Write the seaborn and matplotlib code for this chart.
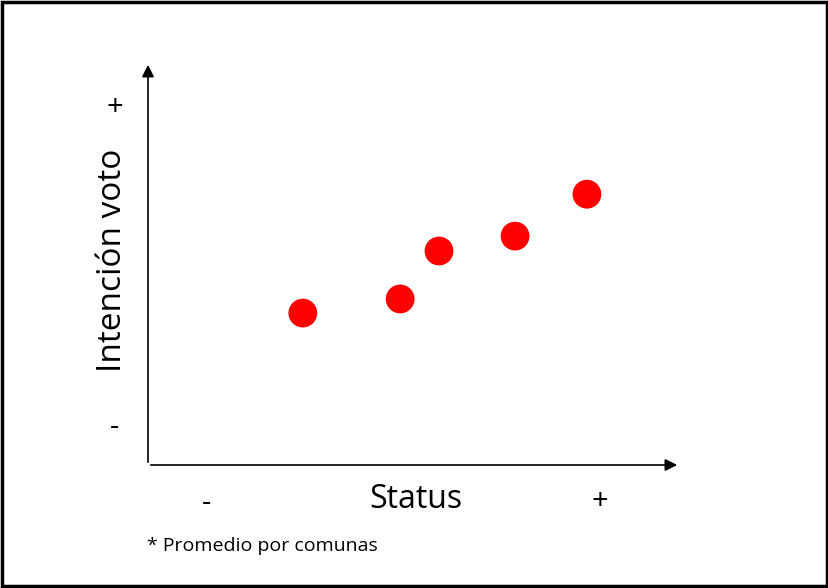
import matplotlib
matplotlib.use("Agg")
import matplotlib.pyplot as plt
import seaborn as sns
import pandas as pd
from matplotlib.patches import Rectangle

status = [29.1, 47.4, 54.7, 69.0, 82.5]
intencion = [37.7, 41.2, 53.1, 56.8, 67.2]
df = pd.DataFrame({"status": status, "intencion": intencion})

W, H = 829, 588
fig = plt.figure(figsize=(W/100, H/100), dpi=100)
plt.rcParams['font.family'] = ['Open Sans', 'DejaVu Sans']
ax = fig.add_axes([148/W, (H-465)/H, (680-148)/W, (465-62)/H])
sns.scatterplot(data=df, x="status", y="intencion", ax=ax, color="#ff0000",
                s=430, marker="o", edgecolor="none", legend=False)
ax.set_xlim(0, 100); ax.set_ylim(0, 100)
for s in ax.spines.values():
    s.set_visible(False)
ax.set_xticks([]); ax.set_yticks([]); ax.set_xlabel(""); ax.set_ylabel("")
ax.annotate("", xy=(1, 0), xytext=(0, 0), xycoords="axes fraction",
            arrowprops=dict(arrowstyle="-|>", color="black", lw=1.2, mutation_scale=18))
ax.annotate("", xy=(0, 1), xytext=(0, 0), xycoords="axes fraction",
            arrowprops=dict(arrowstyle="-|>", color="black", lw=1.2, mutation_scale=18))

def t(x, y, s, **kw):
    fig.text(x/W, 1-y/H, s, ha="center", va="center", **kw)

t(113, 260, "Intención voto", fontsize=24, rotation=90)
t(115, 107, "+", fontsize=21)
t(115, 428, "-", fontsize=21)
t(416, 500, "Status", fontsize=23)
t(207, 503, "-", fontsize=21)
t(600, 502, "+", fontsize=21)
fig.text(147/W, 1-546/H, "* Promedio por comunas", ha="left", va="center", fontsize=14)
fig.patches.append(Rectangle((0.002, 0.003), 0.996, 0.994, transform=fig.transFigure,
                             fill=False, edgecolor="black", lw=2.5))
fig.savefig("out.png", dpi=100)
